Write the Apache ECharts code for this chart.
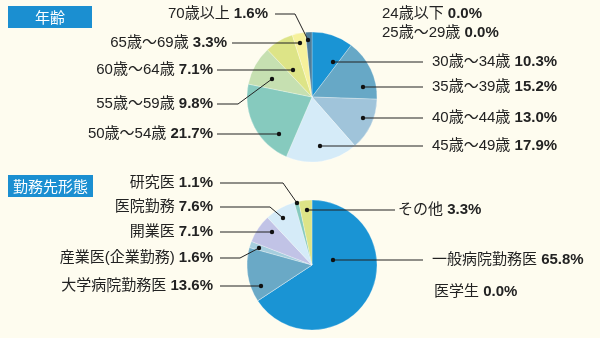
<!DOCTYPE html>
<html>
<head>
<meta charset="utf-8">
<script src="https://cdn.jsdelivr.net/npm/echarts@6/dist/echarts.min.js"></script>
<style>
html, body { margin: 0; padding: 0; background: #fefcef; }
#chart { width: 600px; height: 338px; }
</style>
</head>
<body>
<div id="chart"></div>
<script>
// 年齢
const ageCategories = ['24歳以下', '25歳〜29歳', '30歳〜34歳', '35歳〜39歳', '40歳〜44歳', '45歳〜49歳',
  '50歳〜54歳', '55歳〜59歳', '60歳〜64歳', '65歳〜69歳', '70歳以上'];
const ageValues = [0.0, 0.0, 10.3, 15.2, 13.0, 17.9, 21.7, 9.8, 7.1, 3.3, 1.6];

// 勤務先形態
const workCategories = ['一般病院勤務医', '医学生', '大学病院勤務医', '産業医(企業勤務)', '開業医', '医院勤務', '研究医', 'その他'];
const workValues = [65.8, 0.0, 13.6, 1.6, 7.1, 7.6, 1.1, 3.3];

const ageColors = ['#2f7fb0', '#3f8fb8', '#1a94d4', '#67a8c6', '#a0c4da', '#d5ebf8', '#86cabe', '#c6e0b1', '#dde487', '#f6f19c', '#4d7d9a'];
const workColors = ['#1a94d4', '#3f8fb8', '#6aa9c6', '#a6cede', '#c1c3e6', '#d5ebf8', '#86cabe', '#dde487'];

// Label anchors and leader paths (dot -> optional bend -> text side)
const ageLabelPlacement = [
  { x: 382, y: 14, align: 'left' },
  { x: 382, y: 33, align: 'left' },
  { x: 432, y: 62, align: 'left', path: [[333, 62], [423, 62]] },
  { x: 432, y: 87, align: 'left', path: [[363, 87], [423, 87]] },
  { x: 432, y: 118, align: 'left', path: [[363, 118], [423, 118]] },
  { x: 432, y: 146, align: 'left', path: [[320, 146], [423, 146]] },
  { x: 213, y: 134, align: 'right', path: [[279, 134], [217, 134]] },
  { x: 213, y: 104, align: 'right', path: [[272, 79], [238, 104], [217, 104]] },
  { x: 213, y: 70, align: 'right', path: [[293, 70], [217, 70]] },
  { x: 227, y: 43, align: 'right', path: [[300, 43], [232, 43]] },
  { x: 268, y: 14, align: 'right', path: [[308, 40], [295, 14], [275, 14]] }
];
const workLabelPlacement = [
  { x: 432, y: 260, align: 'left', path: [[333, 260], [423, 260]] },
  { x: 434, y: 292, align: 'left' },
  { x: 213, y: 286, align: 'right', path: [[261, 286], [220, 286]] },
  { x: 213, y: 258, align: 'right', path: [[259, 248], [240, 258], [220, 258]] },
  { x: 213, y: 232, align: 'right', path: [[272, 232], [220, 232]] },
  { x: 213, y: 207, align: 'right', path: [[283, 218], [270, 207], [220, 207]] },
  { x: 213, y: 183, align: 'right', path: [[297, 203], [283, 183], [220, 183]] },
  { x: 398, y: 210, align: 'left', path: [[307, 210], [395, 210]] }
];

const FONT = "'Liberation Sans', 'Noto Sans CJK JP', sans-serif";

function buildData(names, values, colors) {
  return names.map((name, i) => ({ name: name, value: values[i], itemStyle: { color: colors[i] } }));
}

function pieSeries(names, values, colors, placement, center) {
  return {
    type: 'pie',
    center: center,
    radius: 65,
    startAngle: 90,
    clockwise: true,
    avoidLabelOverlap: false,
    silent: true,
    itemStyle: { borderColor: 'rgba(255,255,255,0.45)', borderWidth: 0.6 },
    label: {
      show: true,
      position: 'outside',
      fontSize: 15,
      fontFamily: FONT,
      color: '#222',
      formatter: p => `{n|${p.name}} {v|${p.value.toFixed(1)}%}`,
      rich: {
        n: { fontSize: 15, fontFamily: FONT, color: '#222' },
        v: { fontSize: 15, fontFamily: FONT, color: '#222', fontWeight: 'bold' }
      }
    },
    labelLine: { show: false },
    labelLayout: p => {
      const L = placement[p.dataIndex];
      return { x: L.x, y: L.y, align: L.align, verticalAlign: 'middle' };
    },
    data: buildData(names, values, colors)
  };
}

// Leader lines with a dot at the slice end
const leaders = [];
[ageLabelPlacement, workLabelPlacement].forEach(list => list.forEach(L => {
  if (!L.path) return;
  leaders.push({ type: 'polyline', shape: { points: L.path }, style: { stroke: '#222', lineWidth: 1, fill: null }, z: 100, silent: true });
  leaders.push({ type: 'circle', shape: { cx: L.path[0][0], cy: L.path[0][1], r: 2.2 }, style: { fill: '#111' }, z: 101, silent: true });
}));

const chart = echarts.init(document.getElementById('chart'), null, { renderer: 'canvas' });
chart.setOption({
  backgroundColor: '#fefcef',
  animation: false,
  title: [
    {
      text: '年齢', left: 8, top: 6, backgroundColor: '#1b8fd1', padding: [3, 27, 2, 27],
      textStyle: { color: '#fff', fontSize: 15, fontWeight: 'normal', fontFamily: "'Noto Sans CJK JP'", lineHeight: 17 }
    },
    {
      text: '勤務先形態', left: 8, top: 175, backgroundColor: '#1b8fd1', padding: [3, 5, 2, 5],
      textStyle: { color: '#fff', fontSize: 15, fontWeight: 'normal', fontFamily: "'Noto Sans CJK JP'", lineHeight: 17 }
    }
  ],
  graphic: leaders,
  series: [
    pieSeries(ageCategories, ageValues, ageColors, ageLabelPlacement, [312, 97]),
    pieSeries(workCategories, workValues, workColors, workLabelPlacement, [312, 265])
  ]
});
</script>
</body>
</html>
